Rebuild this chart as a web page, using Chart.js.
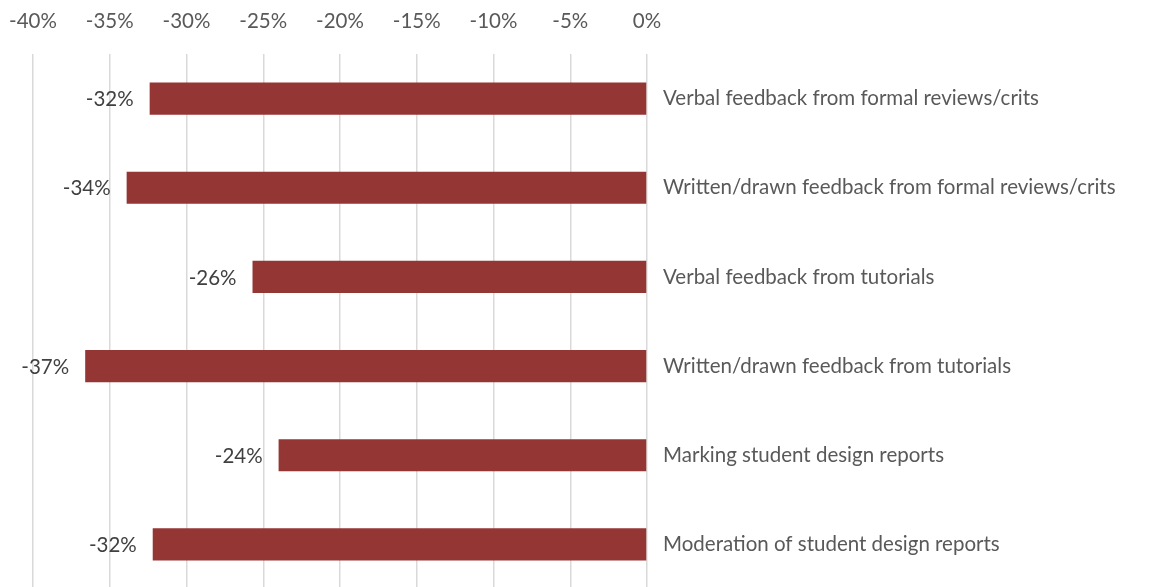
<!DOCTYPE html>
<html>
<head>
<meta charset="utf-8">
<script src="https://cdn.jsdelivr.net/npm/chart.js@4/dist/chart.umd.min.js"></script>
<style>
  html, body { margin: 0; padding: 0; background: #ffffff; overflow: hidden; }
  #wrap { width: 1176px; height: 587px; overflow: hidden; }
  canvas { display: block; }
</style>
</head>
<body>
<div id="wrap"><canvas id="chart" width="1176" height="589"></canvas></div>
<script>
// Feedback activities and their percentage change
const categories = [
  'Verbal feedback from formal reviews/crits',
  'Written/drawn feedback from formal reviews/crits',
  'Verbal feedback from tutorials',
  'Written/drawn feedback from tutorials',
  'Marking student design reports',
  'Moderation of student design reports'
];
const changeValues = [-32.4, -33.9, -25.7, -36.6, -24.0, -32.2];
const tickValues = [-40, -35, -30, -25, -20, -15, -10, -5, 0];

const FONT = 'Lato, "Liberation Sans", sans-serif';
const FONT_SIZE = 20.5;

// Value labels drawn just outside the end of each bar
const barValueLabels = {
  id: 'barValueLabels',
  afterDatasetsDraw(chart) {
    const ctx = chart.ctx;
    const meta = chart.getDatasetMeta(0);
    ctx.save();
    ctx.font = FONT_SIZE + 'px ' + FONT;
    ctx.fillStyle = '#404040';
    ctx.textAlign = 'right';
    ctx.textBaseline = 'middle';
    meta.data.forEach((bar, i) => {
      const v = changeValues[i];
      ctx.fillText(Math.round(v) + '%', bar.x - 16, bar.y + 1);
    });
    ctx.restore();
  }
};

new Chart(document.getElementById('chart'), {
  type: 'bar',
  data: {
    labels: categories,
    datasets: [{
      data: changeValues,
      backgroundColor: '#943634',
      borderWidth: 0,
      barPercentage: 0.36,
      categoryPercentage: 1.0
    }]
  },
  plugins: [barValueLabels],
  options: {
    indexAxis: 'y',
    responsive: false,
    animation: false,
    layout: { autoPadding: false, padding: { left: 33, right: 0, top: 0, bottom: 0 } },
    plugins: {
      legend: { display: false },
      tooltip: { enabled: false }
    },
    scales: {
      x: {
        position: 'top',
        min: -40,
        max: 0,
        afterBuildTicks(scale) {
          scale.ticks = tickValues.map(v => ({ value: v }));
        },
        afterFit(scale) {
          scale.height = 54;
          scale.paddingLeft = 0;
          scale.paddingRight = 0;
        },
        grid: { color: '#d9d9d9', lineWidth: 1.5, drawTicks: false },
        border: { display: false },
        ticks: {
          padding: 20,
          maxRotation: 0,
          color: '#595959',
          font: { family: FONT, size: FONT_SIZE },
          callback: v => v + '%'
        }
      },
      y: {
        position: 'right',
        afterFit(scale) {
          scale.width = 529;
          scale.paddingTop = 0;
          scale.paddingBottom = 0;
        },
        grid: { display: false, drawTicks: false },
        border: { display: false },
        ticks: {
          padding: 16,
          color: '#595959',
          font: { family: FONT, size: FONT_SIZE }
        }
      }
    }
  }
});
</script>
</body>
</html>
